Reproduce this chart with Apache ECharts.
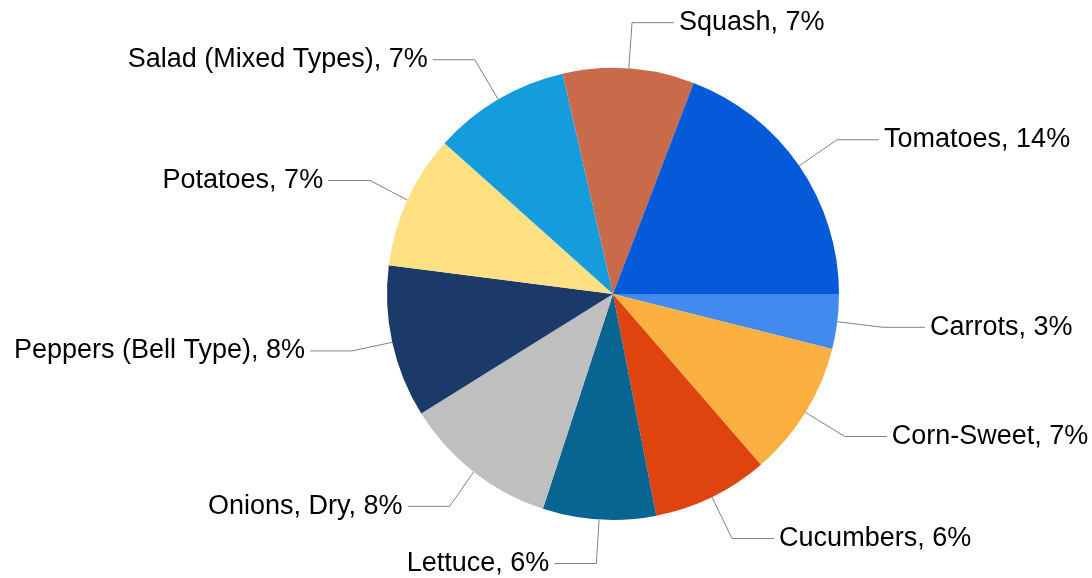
<!DOCTYPE html>
<html style="height: 100%">
   <head>
       <meta charset="utf-8">
   </head>
   <body style="height: 100%; margin: 0; background: #fff">
       <div id="container" style="width: 1092px; height: 578px"></div>
       <script type="text/javascript" src="https://cdn.jsdelivr.net/npm/echarts@6/dist/echarts.min.js"></script>
       <script type="text/javascript">
// crops, in clockwise order starting at 3 o'clock
var crops = ['Carrots', 'Corn-Sweet', 'Cucumbers', 'Lettuce', 'Onions, Dry',
             'Peppers (Bell Type)', 'Potatoes', 'Salad (Mixed Types)', 'Squash', 'Tomatoes'];
// share of all garden crops, % (the rest is not drawn)
var shares = [2.85, 7.1, 6.05, 5.9, 8.1, 7.95, 7.0, 7.15, 6.85, 14.0];
var colors = ['#428bee', '#fbb040', '#e0440e', '#086490', '#bfbfbf',
              '#1b3a69', '#ffe083', '#149cdc', '#c96b4b', '#055ad9'];

var dom = document.getElementById("container");
var myChart = echarts.init(dom);

var pieData = crops.map(function (name, i) {
    return { name: name, value: shares[i], itemStyle: { color: colors[i] } };
});

var option = {
    animation: false,
    series: [
        {
            type: 'pie',
            center: [613, 294],
            radius: 226,
            startAngle: 0,
            clockwise: true,
            data: pieData,
            itemStyle: { borderWidth: 0 },
            label: {
                show: true,
                color: '#000',
                fontFamily: 'Liberation Sans, Arial, sans-serif',
                fontSize: 27,
                overflow: 'none',
                distanceToLabelLine: 5,
                formatter: function (p) {
                    return p.name + ', ' + Math.round(p.value) + '%';
                }
            },
            labelLine: {
                show: true,
                length: 46,
                length2: 42,
                lineStyle: { color: '#808080', width: 1 }
            }
        }
    ]
};
myChart.setOption(option, true);
       </script>
   </body>
</html>
